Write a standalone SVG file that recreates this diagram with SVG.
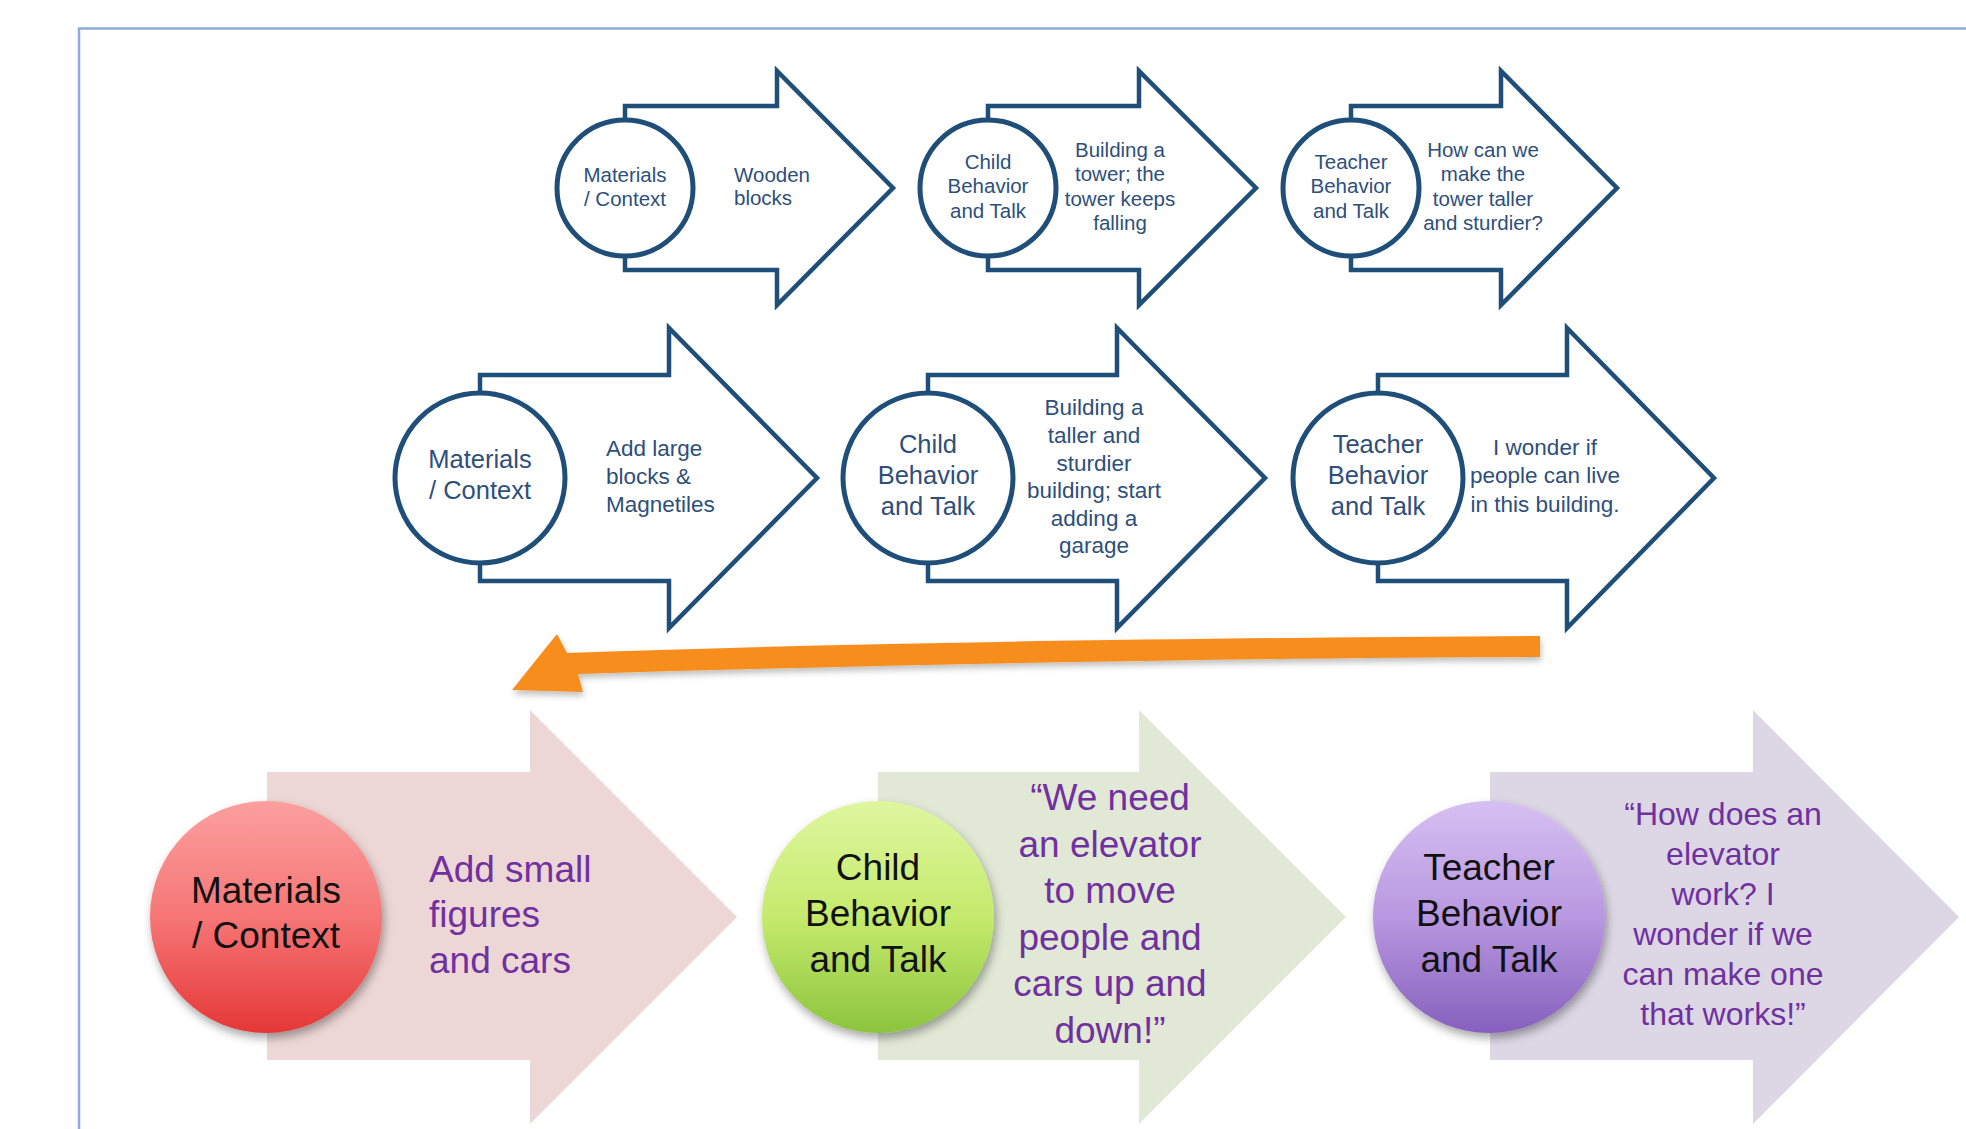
<svg xmlns="http://www.w3.org/2000/svg" width="1966" height="1129" viewBox="0 0 1966 1129">
  <defs>
    <style>
      .frame { fill: none; stroke: #8eaadb; stroke-width: 2.5; }
      .outline { fill: #ffffff; stroke: #1f4e79; stroke-width: 4.5; stroke-linejoin: miter; }
      .ring { fill: #ffffff; stroke: #1f4e79; stroke-width: 5; }
      .t { font-family: "Liberation Sans", Arial, sans-serif; }
      .blue { fill: #2e4f7a; }
      .s1 { font-size: 20.5px; }
      .s2c { font-size: 25.5px; }
      .s2b { font-size: 22.5px; }
      .s3 { font-size: 37px; }
      .s3p { font-size: 32px; }
      .mid { text-anchor: middle; }
      .dark { fill: #111111; }
      .violet { fill: #7030a0; }
    </style>
    <linearGradient id="gRed" x1="0" y1="0" x2="0" y2="1">
      <stop offset="0" stop-color="#fc9f9f"/>
      <stop offset="0.5" stop-color="#f67676"/>
      <stop offset="1" stop-color="#e53737"/>
    </linearGradient>
    <linearGradient id="gGreen" x1="0" y1="0" x2="0" y2="1">
      <stop offset="0" stop-color="#dff6a0"/>
      <stop offset="0.5" stop-color="#c5ea6c"/>
      <stop offset="1" stop-color="#8cc43e"/>
    </linearGradient>
    <linearGradient id="gPurple" x1="0" y1="0" x2="0" y2="1">
      <stop offset="0" stop-color="#d6bff2"/>
      <stop offset="0.5" stop-color="#b898e0"/>
      <stop offset="1" stop-color="#8660bd"/>
    </linearGradient>
    <filter id="soft" x="-20%" y="-20%" width="140%" height="150%">
      <feDropShadow dx="2" dy="5" stdDeviation="5" flood-color="#000000" flood-opacity="0.35"/>
    </filter>
    <filter id="softLine" x="-5%" y="-50%" width="110%" height="220%">
      <feDropShadow dx="1" dy="4" stdDeviation="3" flood-color="#000000" flood-opacity="0.25"/>
    </filter>
  </defs>

  <rect width="1966" height="1129" fill="#ffffff"/>

  <!-- page frame -->
  <path class="frame" d="M79,1129 V28.5 H1966"/>

  <!-- top row: outlined arrows -->
  <g id="r1-materials">
    <polygon class="outline" points="625,106 777,106 777,71 893,188 777,305 777,270 625,270"/>
    <circle class="ring" cx="625" cy="188" r="68"/>
    <text class="t s1 blue mid" x="625"><tspan x="625" y="182">Materials</tspan><tspan x="625" y="206">/ Context</tspan></text>
    <text class="t s1 blue"><tspan x="734" y="182">Wooden</tspan><tspan x="734" y="205">blocks</tspan></text>
  </g>
  <g id="r1-child">
    <polygon class="outline" points="988,106 1139,106 1139,71 1256,188 1139,305 1139,270 988,270"/>
    <circle class="ring" cx="988" cy="188" r="68"/>
    <text class="t s1 blue mid"><tspan x="988" y="169">Child</tspan><tspan x="988" y="193">Behavior</tspan><tspan x="988" y="218">and Talk</tspan></text>
    <text class="t s1 blue mid"><tspan x="1120" y="157">Building a</tspan><tspan x="1120" y="181">tower; the</tspan><tspan x="1120" y="206">tower keeps</tspan><tspan x="1120" y="230">falling</tspan></text>
  </g>
  <g id="r1-teacher">
    <polygon class="outline" points="1351,106 1501,106 1501,71 1617,188 1501,305 1501,270 1351,270"/>
    <circle class="ring" cx="1351" cy="188" r="68"/>
    <text class="t s1 blue mid"><tspan x="1351" y="169">Teacher</tspan><tspan x="1351" y="193">Behavior</tspan><tspan x="1351" y="218">and Talk</tspan></text>
    <text class="t s1 blue mid"><tspan x="1483" y="157">How can we</tspan><tspan x="1483" y="181">make the</tspan><tspan x="1483" y="206">tower taller</tspan><tspan x="1483" y="230">and sturdier?</tspan></text>
  </g>

  <!-- middle row: outlined arrows -->
  <g id="r2-materials">
    <polygon class="outline" points="480,375 669,375 669,328 817,478 669,628 669,581 480,581"/>
    <circle class="ring" cx="480" cy="478" r="85"/>
    <text class="t s2c blue mid"><tspan x="480" y="468">Materials</tspan><tspan x="480" y="499">/ Context</tspan></text>
    <text class="t s2b blue"><tspan x="606" y="456">Add large</tspan><tspan x="606" y="484">blocks &amp;</tspan><tspan x="606" y="512">Magnetiles</tspan></text>
  </g>
  <g id="r2-child">
    <polygon class="outline" points="928,375 1117,375 1117,328 1265,478 1117,628 1117,581 928,581"/>
    <circle class="ring" cx="928" cy="478" r="85"/>
    <text class="t s2c blue mid"><tspan x="928" y="453">Child</tspan><tspan x="928" y="484">Behavior</tspan><tspan x="928" y="515">and Talk</tspan></text>
    <text class="t s2b blue mid"><tspan x="1094" y="415">Building a</tspan><tspan x="1094" y="443">taller and</tspan><tspan x="1094" y="471">sturdier</tspan><tspan x="1094" y="498">building; start</tspan><tspan x="1094" y="526">adding a</tspan><tspan x="1094" y="553">garage</tspan></text>
  </g>
  <g id="r2-teacher">
    <polygon class="outline" points="1378,375 1567,375 1567,328 1714,478 1567,628 1567,581 1378,581"/>
    <circle class="ring" cx="1378" cy="478" r="85"/>
    <text class="t s2c blue mid"><tspan x="1378" y="453">Teacher</tspan><tspan x="1378" y="484">Behavior</tspan><tspan x="1378" y="515">and Talk</tspan></text>
    <text class="t s2b blue mid"><tspan x="1545" y="455">I wonder if</tspan><tspan x="1545" y="483">people can live</tspan><tspan x="1545" y="512">in this building.</tspan></text>
  </g>

  <!-- return arrow back to the start of the bottom row -->
  <g id="connectors">
    <path filter="url(#softLine)" fill="#f78d1f" d="M1540,636 C1250,638 900,641 567,653 L557,634 L512,690 L583,692 L578,674 C900,664 1250,658 1540,657 Z"/>
  </g>

  <!-- bottom row: filled arrows with shaded discs -->
  <g id="r3-materials">
    <polygon fill="#edd6d6" points="267,772 530,772 530,710 737,917 530,1124 530,1060 267,1060"/>
    <circle fill="url(#gRed)" filter="url(#soft)" cx="266" cy="917" r="116"/>
    <text class="t s3 dark mid"><tspan x="266" y="903">Materials</tspan><tspan x="266" y="948">/ Context</tspan></text>
    <text class="t s3 violet"><tspan x="429" y="882">Add small</tspan><tspan x="429" y="927">figures</tspan><tspan x="429" y="973">and cars</tspan></text>
  </g>
  <g id="r3-child">
    <polygon fill="#e1e8d6" points="878,772 1139,772 1139,710 1346,917 1139,1124 1139,1060 878,1060"/>
    <circle fill="url(#gGreen)" filter="url(#soft)" cx="878" cy="917" r="116"/>
    <text class="t s3 dark mid"><tspan x="878" y="880">Child</tspan><tspan x="878" y="926">Behavior</tspan><tspan x="878" y="972">and Talk</tspan></text>
    <text class="t s3 violet mid"><tspan x="1110" y="810">“We need</tspan><tspan x="1110" y="857">an elevator</tspan><tspan x="1110" y="903">to move</tspan><tspan x="1110" y="950">people and</tspan><tspan x="1110" y="996">cars up and</tspan><tspan x="1110" y="1043">down!”</tspan></text>
  </g>
  <g id="r3-teacher">
    <polygon fill="#ddd7e5" points="1490,772 1753,772 1753,710 1959,917 1753,1124 1753,1060 1490,1060"/>
    <circle fill="url(#gPurple)" filter="url(#soft)" cx="1489" cy="917" r="116"/>
    <text class="t s3 dark mid"><tspan x="1489" y="880">Teacher</tspan><tspan x="1489" y="926">Behavior</tspan><tspan x="1489" y="972">and Talk</tspan></text>
    <text class="t s3p violet mid"><tspan x="1723" y="825">“How does an</tspan><tspan x="1723" y="865">elevator</tspan><tspan x="1723" y="905">work? I</tspan><tspan x="1723" y="945">wonder if we</tspan><tspan x="1723" y="985">can make one</tspan><tspan x="1723" y="1025">that works!”</tspan></text>
  </g>
</svg>
